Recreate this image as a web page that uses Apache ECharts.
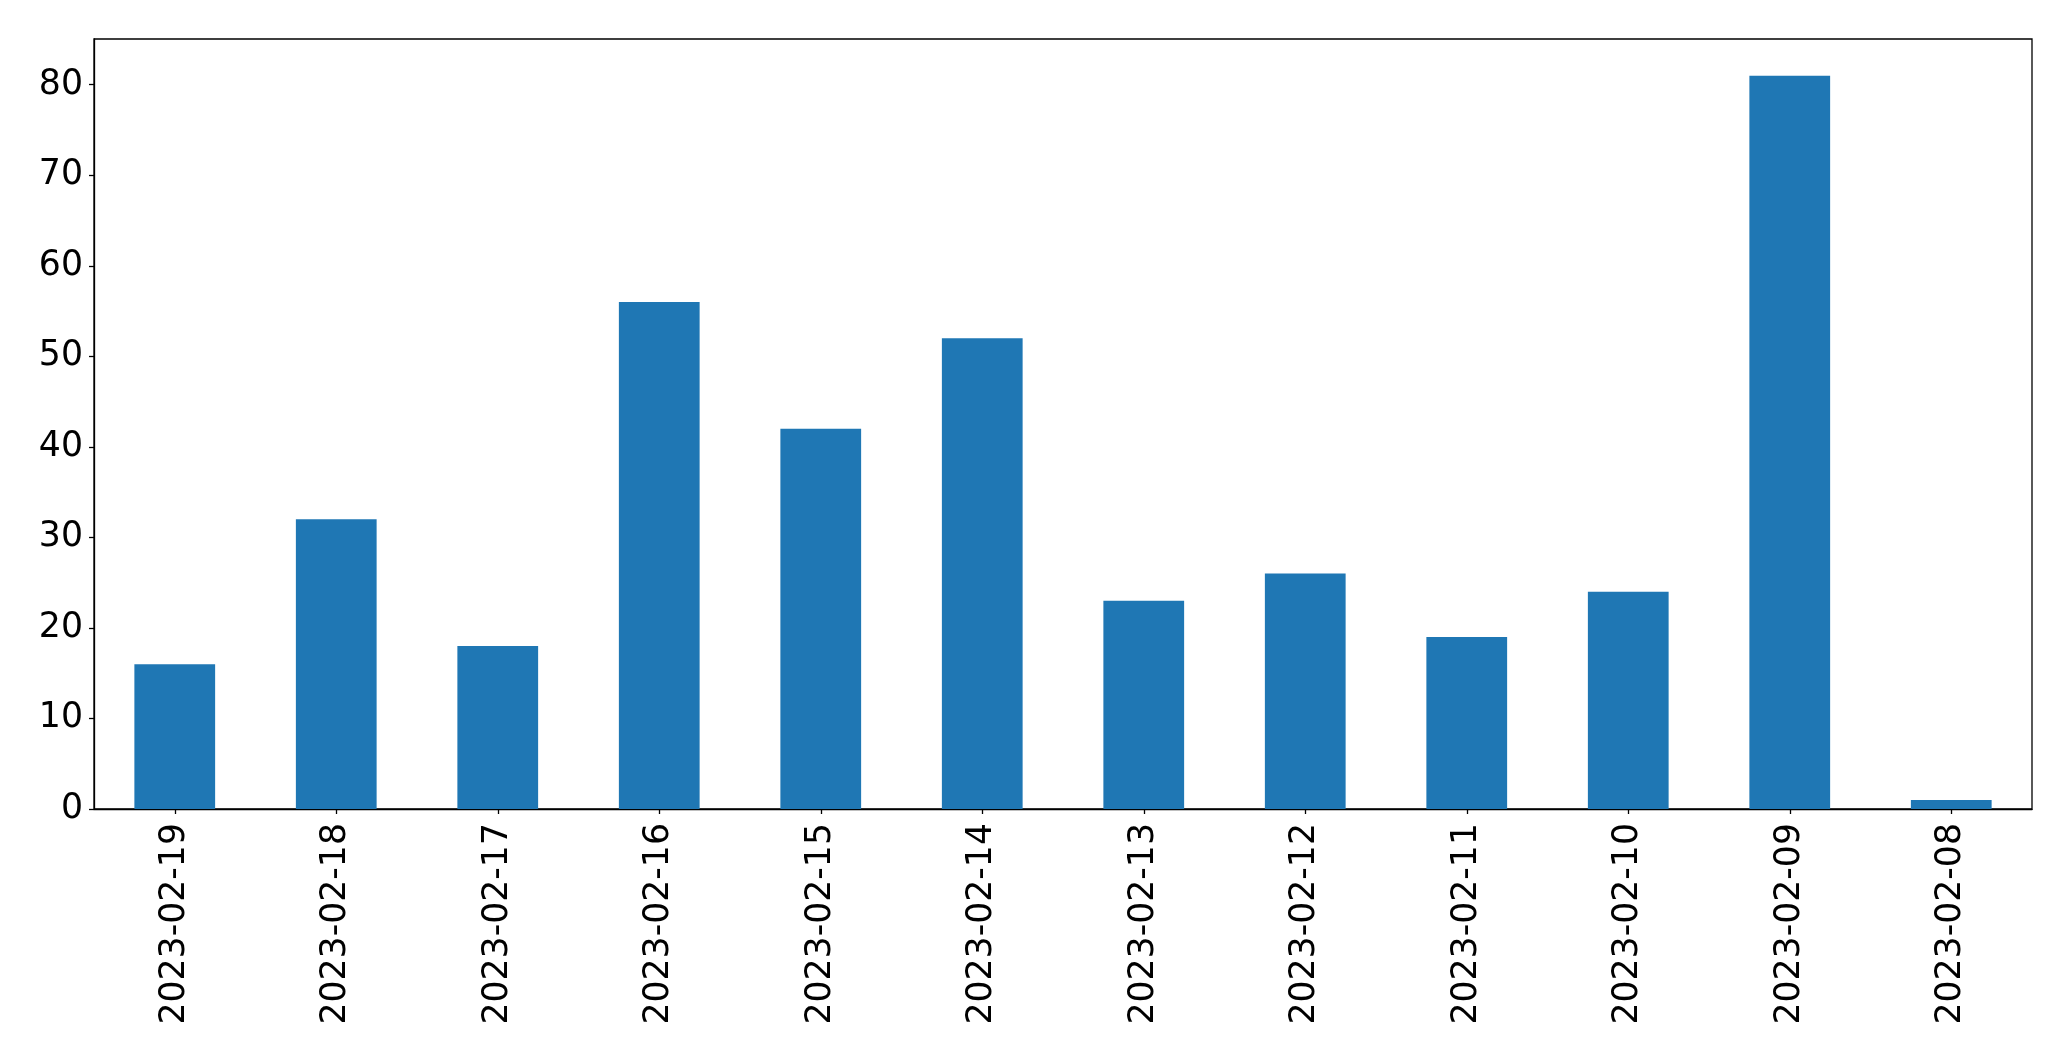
<!DOCTYPE html>
<html>
<head>
<meta charset="utf-8">
<script src="https://cdn.jsdelivr.net/npm/echarts@6/dist/echarts.min.js"></script>
<style>
html,body{margin:0;padding:0;background:#fff;}
#chart{width:2071px;height:1061px;}
</style>
</head>
<body>
<div id="chart"></div>
<script>
const categories = ['2023-02-19','2023-02-18','2023-02-17','2023-02-16','2023-02-15','2023-02-14','2023-02-13','2023-02-12','2023-02-11','2023-02-10','2023-02-09','2023-02-08'];
const values = [16, 32, 18, 56, 42, 52, 23, 26, 19, 24, 81, 1];
const yTicks = [0, 10, 20, 30, 40, 50, 60, 70, 80];
const yMax = 85.05;

const chart = echarts.init(document.getElementById('chart'), null, {renderer: 'canvas'});
const font = 'DejaVu Sans';
chart.setOption({
  animation: false,
  backgroundColor: '#ffffff',
  grid: {left: 94, right: 39, top: 39, bottom: 252, show: true, borderColor: '#000', borderWidth: 1.3, backgroundColor: 'transparent'},
  xAxis: {
    type: 'category',
    data: categories,
    axisLine: {show: true, lineStyle: {color: '#000', width: 1.3}},
    axisTick: {show: true, alignWithLabel: true, length: 5, lineStyle: {color: '#000', width: 1.3}},
    axisLabel: {rotate: 90, margin: 14, color: '#000', fontFamily: font, fontSize: 34.7, interval: 0},
    splitLine: {show: false}
  },
  yAxis: {
    type: 'value',
    min: 0,
    max: yMax,
    interval: 10,
    axisLine: {show: true, lineStyle: {color: '#000', width: 1.3}},
    axisTick: {show: true, length: 5, lineStyle: {color: '#000', width: 1.3}, customValues: yTicks},
    axisLabel: {color: '#000', fontFamily: font, fontSize: 34.7, margin: 11, customValues: yTicks},
    splitLine: {show: false}
  },
  series: [{
    type: 'bar',
    data: values,
    barWidth: '50%',
    itemStyle: {color: '#1f77b4'}
  }]
});
</script>
</body>
</html>
